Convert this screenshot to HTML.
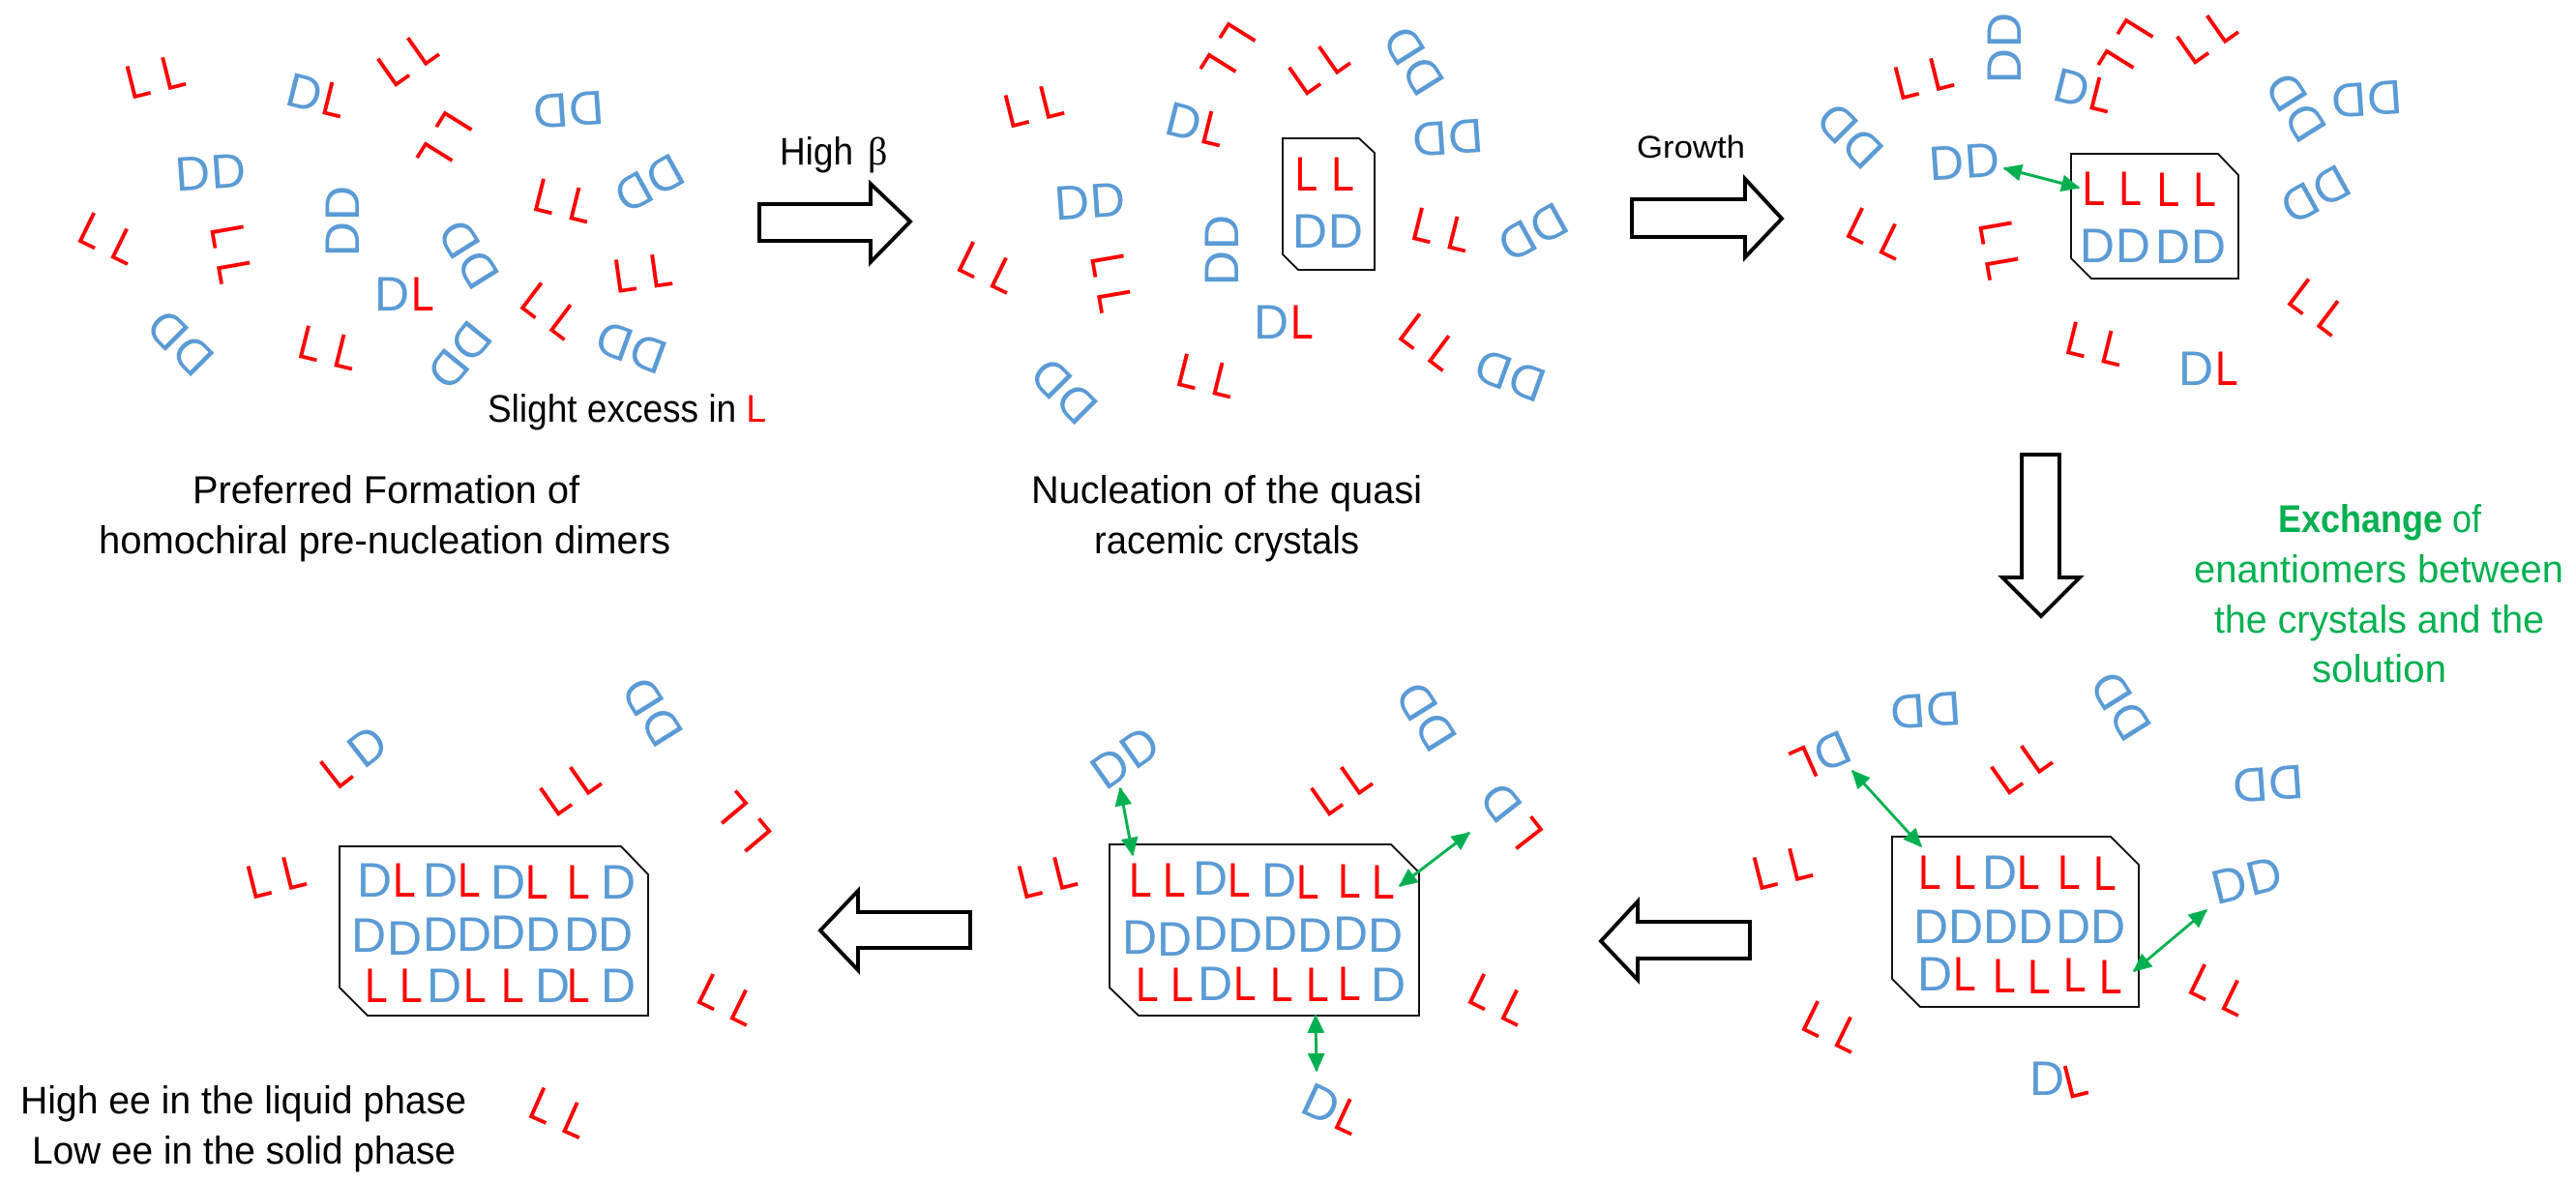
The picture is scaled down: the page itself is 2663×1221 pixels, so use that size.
<!DOCTYPE html>
<html><head><meta charset="utf-8"><title>Diagram</title>
<style>
html,body{margin:0;padding:0;background:#fff}
svg{display:block}
text{font-family:"Liberation Sans",sans-serif}
.d{fill:#5b9bd5;font-size:50px;letter-spacing:.9px}
.l{fill:#f00;font-size:50px;letter-spacing:16.5px}
.t{fill:#000;font-size:40px}
.g{fill:#00b050;font-size:40px}
.a{fill:#fff;stroke:#000;stroke-width:4}
.c{fill:#fff;stroke:#111;stroke-width:2}
.e{stroke:#00b050;stroke-width:3;marker-start:url(#h);marker-end:url(#h)}
</style></head><body>
<svg width="2663" height="1221" viewBox="0 0 2663 1221" xmlns="http://www.w3.org/2000/svg">
<defs><marker id="h" markerWidth="7" markerHeight="6" refX="6" refY="3" orient="auto-start-reverse" markerUnits="strokeWidth"><path d="M0 0L6.5 3L0 6z" fill="#00b050"/></marker></defs>
<rect width="2663" height="1221" fill="#fff"/>

<!-- big arrows -->
<polygon class="a" points="785,211 900,211 900,190 941,229 900,271 900,249 785,249"/>
<polygon class="a" points="1687,206 1804,206 1804,185 1842,226 1804,266 1804,245 1687,245"/>
<polygon class="a" points="2090,470 2129,470 2129,597 2150,597 2110,637 2070,597 2090,597"/>
<polygon class="a" points="848,962 887,921 887,943 1003,943 1003,980 887,980 887,1003"/>
<polygon class="a" points="1655,973 1693,932 1693,953 1809,953 1809,991 1693,991 1693,1013"/>

<!-- crystals -->
<polygon class="c" points="1326,143 1405,143 1421,158 1421,279 1342,279 1326,263"/>
<polygon class="c" points="2141,159 2293,159 2314,181 2314,288 2162,288 2141,267"/>
<polygon class="c" points="1956,865 2182,865 2211,894 2211,1041 1985,1041 1956,1012"/>
<polygon class="c" points="1147,873 1438,873 1467,902 1467,1050 1177,1050 1147,1021"/>
<polygon class="c" points="351,875 642,875 670,904 670,1050 380,1050 351,1021"/>

<!-- panel 1 -->
<text class="l" x="-37" y="17" transform="translate(161 79)rotate(-14)scale(.85 1)">LL</text>
<g transform="translate(328 99)rotate(14)"><text class="d" x="-32" y="17">D</text><text class="l" transform="translate(6 17)scale(.85 1)">L</text></g>
<text class="l" x="-37" y="17" transform="translate(422 60)rotate(-35)scale(.85 1)">LL</text>
<text class="l" x="-37" y="17" transform="translate(459 147)rotate(122)scale(.85 1)">LL</text>
<text class="d" x="-37.2" y="17" transform="translate(587 113)rotate(176)">DD</text>
<text class="d" x="-37.2" y="17" transform="translate(218 178)rotate(-4)">DD</text>
<text class="d" x="-37.2" y="17" transform="translate(354 228)rotate(-90)">DD</text>
<text class="l" x="-37" y="17" transform="translate(113 247)rotate(26)scale(.85 1)">LL</text>
<text class="l" x="-37" y="17" transform="translate(239 263)rotate(80)scale(.85 1)">LL</text>
<text class="d" x="-37.2" y="17" transform="translate(186 353.5)rotate(-135)">DD</text>
<text class="l" x="-37" y="17" transform="translate(340 360)rotate(14)scale(.85 1)">LL</text>
<g transform="translate(419 304)"><text class="d" x="-32" y="17">D</text><text class="l" transform="translate(6 17)scale(.85 1)">L</text></g>
<text class="d" x="-37.2" y="17" transform="translate(484 262)rotate(-122)">DD</text>
<text class="d" x="-37.2" y="17" transform="translate(474.5 367.5)rotate(129)">DD</text>
<text class="l" x="-37" y="17" transform="translate(583 208)rotate(14)scale(.85 1)">LL</text>
<text class="d" x="-37.2" y="17" transform="translate(670.5 189.5)rotate(151)">DD</text>
<text class="l" x="-37" y="17" transform="translate(665 282)rotate(-8)scale(.85 1)">LL</text>
<text class="l" x="-37" y="17" transform="translate(570 322)rotate(37)scale(.85 1)">LL</text>
<text class="d" x="-37.2" y="17" transform="translate(652 358.6)rotate(200)">DD</text>

<!-- panel 2 -->
<text class="l" x="-37" y="17" transform="translate(1069 109)rotate(-14)scale(.85 1)">LL</text>
<g transform="translate(1237 129)rotate(14)"><text class="d" x="-32" y="17">D</text><text class="l" transform="translate(6 17)scale(.85 1)">L</text></g>
<text class="l" x="-37" y="17" transform="translate(1269 55)rotate(122)scale(.85 1)">LL</text>
<text class="l" x="-37" y="17" transform="translate(1364 69)rotate(-35)scale(.85 1)">LL</text>
<text class="d" x="-37.2" y="17" transform="translate(1461 62)rotate(-122)">DD</text>
<text class="d" x="-37.2" y="17" transform="translate(1496 142)rotate(176)">DD</text>
<text class="d" x="-37.2" y="17" transform="translate(1127 208)rotate(-4)">DD</text>
<text class="d" x="-37.2" y="17" transform="translate(1263 258)rotate(-90)">DD</text>
<text class="l" x="-37" y="17" transform="translate(1022 277)rotate(26)scale(.85 1)">LL</text>
<text class="l" x="-37" y="17" transform="translate(1149 293)rotate(80)scale(.85 1)">LL</text>
<text class="d" x="-37.2" y="17" transform="translate(1099.5 403.5)rotate(-135)">DD</text>
<text class="l" x="-37" y="17" transform="translate(1248 389)rotate(14)scale(.85 1)">LL</text>
<g transform="translate(1328 333)"><text class="d" x="-32" y="17">D</text><text class="l" transform="translate(6 17)scale(.85 1)">L</text></g>
<text class="l" x="-37" y="17" transform="translate(1491 238)rotate(14)scale(.85 1)">LL</text>
<text class="d" x="-37.2" y="17" transform="translate(1584 240)rotate(151)">DD</text>
<text class="l" x="-37" y="17" transform="translate(1478 354)rotate(37)scale(.85 1)">LL</text>
<text class="d" x="-37.2" y="17" transform="translate(1560.6 387.6)rotate(200)">DD</text>
<text class="l" x="-37" y="17" transform="translate(1370 180)scale(.85 1)">LL</text>
<text class="d" x="-37.2" y="17" transform="translate(1373 239)">DD</text>

<!-- panel 3 -->
<text class="l" x="-37" y="17" transform="translate(1989 80)rotate(-14)scale(.85 1)">LL</text>
<text class="d" x="-37.2" y="17" transform="translate(2072 49)rotate(-90)">DD</text>
<g transform="translate(2155 94)rotate(14)"><text class="d" x="-32" y="17">D</text><text class="l" transform="translate(6 17)scale(.85 1)">L</text></g>
<text class="l" x="-37" y="17" transform="translate(2197 51)rotate(122)scale(.85 1)">LL</text>
<text class="l" x="-37" y="17" transform="translate(2282 37)rotate(-35)scale(.85 1)">LL</text>
<text class="d" x="-37.2" y="17" transform="translate(1912 139.5)rotate(-135)">DD</text>
<text class="d" x="-37.2" y="17" transform="translate(2031 167)rotate(-4)">DD</text>
<text class="d" x="-37.2" y="17" transform="translate(2373 110)rotate(-122)">DD</text>
<text class="d" x="-37.2" y="17" transform="translate(2446 102)rotate(176)">DD</text>
<text class="d" x="-37.2" y="17" transform="translate(2393 201)rotate(151)">DD</text>
<text class="l" x="-37" y="17" transform="translate(1941 242)rotate(26)scale(.85 1)">LL</text>
<text class="l" x="-37" y="17" transform="translate(2067 259)rotate(80)scale(.85 1)">LL</text>
<text class="l" x="-37" y="17" transform="translate(2397 318)rotate(37)scale(.85 1)">LL</text>
<text class="l" x="-37" y="17" transform="translate(2167 356)rotate(14)scale(.85 1)">LL</text>
<g transform="translate(2284 381)"><text class="d" x="-32" y="17">D</text><text class="l" transform="translate(6 17)scale(.85 1)">L</text></g>
<text class="l" x="-37" y="17" transform="translate(2184 195)scale(.85 1)">LL</text>
<text class="l" x="-37" y="17" transform="translate(2261 196)scale(.85 1)">LL</text>
<text class="d" x="-37.2" y="17" transform="translate(2187 254)">DD</text>
<text class="d" x="-37.2" y="17" transform="translate(2265 255)">DD</text>
<line class="e" x1="2072" y1="174" x2="2149" y2="194"/>

<!-- panel 6 (bottom right) -->
<g transform="translate(1881 782)rotate(156)"><text class="d" x="-32" y="17">D</text><text class="l" transform="translate(6 17)scale(.85 1)">L</text></g>
<text class="d" x="-37.2" y="17" transform="translate(1990 734)rotate(176)">DD</text>
<text class="d" x="-37.2" y="17" transform="translate(2192 729)rotate(-122)">DD</text>
<text class="l" x="-37" y="17" transform="translate(2090 792)rotate(-35)scale(.85 1)">LL</text>
<text class="d" x="-37.2" y="17" transform="translate(2344 810)rotate(176)">DD</text>
<text class="l" x="-37" y="17" transform="translate(1843 897)rotate(-14)scale(.85 1)">LL</text>
<text class="d" x="-37.2" y="17" transform="translate(2323 910)rotate(-14)">DD</text>
<text class="l" x="-37" y="17" transform="translate(2295 1024)rotate(26)scale(.85 1)">LL</text>
<text class="l" x="-37" y="17" transform="translate(1895 1062)rotate(26)scale(.85 1)">LL</text>
<text class="d" x="2098" y="1132">D</text>
<text class="l" transform="translate(2146 1117)rotate(-14)scale(.85 1)" x="-15" y="17">L</text>
<text class="l" transform="translate(1983 919)scale(.85 1)">L</text>
<text class="l" transform="translate(2019 919)scale(.85 1)">L</text>
<text class="d" x="2049" y="919">D</text>
<text class="l" transform="translate(2085 919)scale(.85 1)">L</text>
<text class="l" transform="translate(2127 919)scale(.85 1)">L</text>
<text class="l" transform="translate(2164 920)scale(.85 1)">L</text>
<text class="d" x="1978" y="975">D</text>
<text class="d" x="2014" y="975">D</text>
<text class="d" x="2050" y="975">D</text>
<text class="d" x="2086" y="975">D</text>
<text class="d" x="2125" y="975">D</text>
<text class="d" x="2161" y="975">D</text>
<text class="d" x="1982" y="1024">D</text>
<text class="l" transform="translate(2019 1024)scale(.85 1)">L</text>
<text class="l" transform="translate(2060 1026)scale(.85 1)">L</text>
<text class="l" transform="translate(2096 1027)scale(.85 1)">L</text>
<text class="l" transform="translate(2133 1025)scale(.85 1)">L</text>
<text class="l" transform="translate(2170 1027)scale(.85 1)">L</text>
<line class="e" x1="1915" y1="797" x2="1986" y2="875"/>
<line class="e" x1="2281" y1="941" x2="2206" y2="1004"/>

<!-- panel 5 (bottom middle) -->
<text class="d" x="-37.2" y="17" transform="translate(1163.5 783)rotate(-35)">DD</text>
<text class="d" x="-37.2" y="17" transform="translate(1474 740)rotate(-122)">DD</text>
<text class="l" x="-37" y="17" transform="translate(1387 814)rotate(-35)scale(.85 1)">LL</text>
<g transform="translate(1564 845)rotate(-128)"><text class="l" transform="translate(-33 17)scale(.85 1)">L</text><text class="d" x="2" y="17">D</text></g>
<text class="l" x="-37" y="17" transform="translate(1083 906)rotate(-14)scale(.85 1)">LL</text>
<text class="l" x="-37" y="17" transform="translate(1550 1034)rotate(26)scale(.85 1)">LL</text>
<g transform="translate(1378 1147)rotate(25)"><text class="d" x="-32" y="17">D</text><text class="l" transform="translate(6 17)scale(.85 1)">L</text></g>
<text class="l" transform="translate(1167 927)scale(.85 1)">L</text>
<text class="l" transform="translate(1202 927)scale(.85 1)">L</text>
<text class="d" x="1233" y="925">D</text>
<text class="l" transform="translate(1269 927)scale(.85 1)">L</text>
<text class="d" x="1304" y="927">D</text>
<text class="l" transform="translate(1340 929)scale(.85 1)">L</text>
<text class="l" transform="translate(1383 928)scale(.85 1)">L</text>
<text class="l" transform="translate(1418 929)scale(.85 1)">L</text>
<text class="d" x="1160" y="986">D</text>
<text class="d" x="1196" y="988">D</text>
<text class="d" x="1233" y="982">D</text>
<text class="d" x="1269" y="984">D</text>
<text class="d" x="1305" y="982">D</text>
<text class="d" x="1341" y="984">D</text>
<text class="d" x="1378" y="982">D</text>
<text class="d" x="1414" y="984">D</text>
<text class="l" transform="translate(1174 1035)scale(.85 1)">L</text>
<text class="l" transform="translate(1210 1035)scale(.85 1)">L</text>
<text class="d" x="1238" y="1034">D</text>
<text class="l" transform="translate(1275 1034)scale(.85 1)">L</text>
<text class="l" transform="translate(1313 1035)scale(.85 1)">L</text>
<text class="l" transform="translate(1350 1035)scale(.85 1)">L</text>
<text class="l" transform="translate(1383 1034)scale(.85 1)">L</text>
<text class="d" x="1417" y="1035">D</text>
<line class="e" x1="1158" y1="815" x2="1171" y2="884"/>
<line class="e" x1="1519" y1="861" x2="1447" y2="916"/>
<line class="e" x1="1360" y1="1050" x2="1361" y2="1107"/>

<!-- panel 4 (bottom left) -->
<g transform="translate(364 784)rotate(-38)"><text class="l" transform="translate(-33 17)scale(.85 1)">L</text><text class="d" x="2" y="17">D</text></g>
<text class="d" x="-37.2" y="17" transform="translate(674 735)rotate(-122)">DD</text>
<text class="l" x="-37" y="17" transform="translate(590 814)rotate(-35)scale(.85 1)">LL</text>
<text class="l" x="-37" y="17" transform="translate(767 849)rotate(-130)scale(.85 1)">LL</text>
<text class="l" x="-37" y="17" transform="translate(286 906)rotate(-14)scale(.85 1)">LL</text>
<text class="l" x="-37" y="17" transform="translate(753 1034)rotate(26)scale(.85 1)">LL</text>
<text class="l" x="-37" y="17" transform="translate(579 1151)rotate(24)scale(.85 1)">LL</text>
<text class="d" x="369" y="927">D</text>
<text class="l" transform="translate(406 927)scale(.85 1)">L</text>
<text class="d" x="437" y="927">D</text>
<text class="l" transform="translate(473 927)scale(.85 1)">L</text>
<text class="d" x="507" y="929">D</text>
<text class="l" transform="translate(543 929)scale(.85 1)">L</text>
<text class="l" transform="translate(586 929)scale(.85 1)">L</text>
<text class="d" x="621" y="929">D</text>
<text class="d" x="363" y="984">D</text>
<text class="d" x="400" y="987">D</text>
<text class="d" x="437" y="983">D</text>
<text class="d" x="472" y="983">D</text>
<text class="d" x="507" y="981">D</text>
<text class="d" x="543" y="983">D</text>
<text class="d" x="583" y="983">D</text>
<text class="d" x="618" y="983">D</text>
<text class="l" transform="translate(377 1036)scale(.85 1)">L</text>
<text class="l" transform="translate(413 1036)scale(.85 1)">L</text>
<text class="d" x="441" y="1036">D</text>
<text class="l" transform="translate(479 1036)scale(.85 1)">L</text>
<text class="l" transform="translate(518 1036)scale(.85 1)">L</text>
<text class="d" x="553" y="1036">D</text>
<text class="l" transform="translate(586 1036)scale(.85 1)">L</text>
<text class="d" x="621" y="1036">D</text>

<!-- labels -->
<text class="t" x="504" y="436" textLength="288" lengthAdjust="spacingAndGlyphs">Slight excess in <tspan fill="#f00">L</tspan></text>
<text class="t" x="199" y="520" textLength="400" lengthAdjust="spacingAndGlyphs">Preferred Formation of</text>
<text class="t" x="102" y="572" textLength="591" lengthAdjust="spacingAndGlyphs">homochiral pre-nucleation dimers</text>
<text class="t" x="806" y="170" textLength="76" lengthAdjust="spacingAndGlyphs">High</text>
<text x="897" y="170" style="font-family:'Liberation Serif',serif;font-size:40px">β</text>
<text x="1692" y="163" style="font-size:32px" textLength="112" lengthAdjust="spacingAndGlyphs">Growth</text>
<text class="t" x="1066" y="520" textLength="404" lengthAdjust="spacingAndGlyphs">Nucleation of the quasi</text>
<text class="t" x="1131" y="572" textLength="274" lengthAdjust="spacingAndGlyphs">racemic crystals</text>
<text class="g" x="2355" y="550" textLength="210" lengthAdjust="spacingAndGlyphs"><tspan font-weight="bold">Exchange</tspan> of</text>
<text class="g" x="2268" y="602" textLength="382" lengthAdjust="spacingAndGlyphs">enantiomers between</text>
<text class="g" x="2289" y="654" textLength="341" lengthAdjust="spacingAndGlyphs">the crystals and the</text>
<text class="g" x="2390" y="705" textLength="139" lengthAdjust="spacingAndGlyphs">solution</text>
<text class="t" x="21" y="1151" textLength="461" lengthAdjust="spacingAndGlyphs">High ee in the liquid phase</text>
<text class="t" x="33" y="1203" textLength="438" lengthAdjust="spacingAndGlyphs">Low ee in the solid phase</text>
</svg>
</body></html>
